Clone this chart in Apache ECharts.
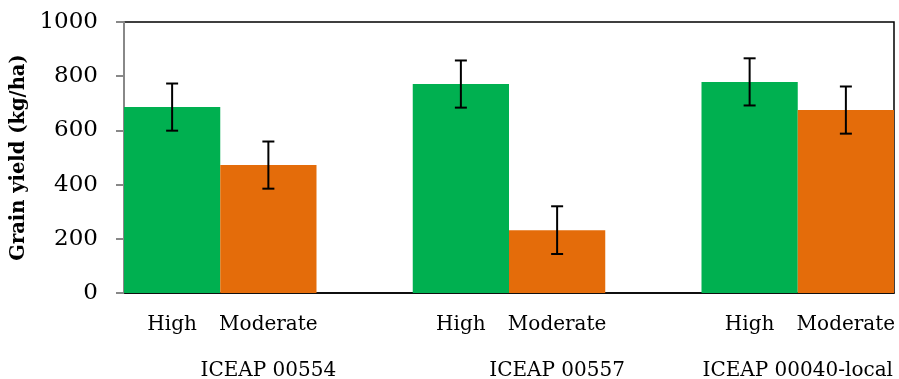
<!DOCTYPE html>
<html>
<head>
<meta charset="utf-8">
<script src="https://cdn.jsdelivr.net/npm/echarts@6/dist/echarts.min.js"></script>
<style>
  html, body { margin: 0; padding: 0; background: #fff; }
  #chart { width: 899px; height: 379px; }
</style>
</head>
<body>
<div id="chart"></div>
<script>
  // 品种 / 处理
  const groups = ['ICEAP 00554', 'ICEAP 00557', 'ICEAP 00040-local']
  const levels = ['High', 'Moderate']
  const highValues = [686, 771, 779]
  const moderateValues = [472, 232, 675]
  const highErrors = [87, 87, 87]
  const moderateErrors = [87, 88, 87]
  const yTicks = [0, 200, 400, 600, 800, 1000]

  const FONT = 'DejaVu Serif'

  // 每组占3格：High, Moderate, 空格（最后一组无空格）
  let categories = []
  let highData = []
  let modData = []
  let errData = []
  groups.forEach((g, i) => {
    categories.push(levels[0], levels[1])
    highData.push(highValues[i], null)
    modData.push(null, moderateValues[i])
    const base = categories.length - 2
    errData.push([base, highValues[i] - highErrors[i], highValues[i] + highErrors[i]])
    errData.push([base + 1, moderateValues[i] - moderateErrors[i], moderateValues[i] + moderateErrors[i]])
    if (i < groups.length - 1) {
      categories.push('')
      highData.push(null)
      modData.push(null)
    }
  })

  const mChart = echarts.init(document.getElementById('chart'))
  const option = {
    animation: false,
    grid: {
      left: 124, right: 5, top: 22, bottom: 86,
      show: true, borderColor: '#000', borderWidth: 1.5
    },
    xAxis: {
      type: 'category',
      data: categories,
      axisTick: { show: false },
      axisLine: { lineStyle: { color: '#000', width: 1.5 } },
      axisLabel: { color: '#000', fontFamily: FONT, fontSize: 20, margin: 22, interval: 0 }
    },
    yAxis: {
      type: 'value',
      min: yTicks[0],
      max: yTicks[yTicks.length - 1],
      interval: 200,
      name: 'Grain yield (kg/ha)',
      nameLocation: 'middle',
      nameGap: 90,
      nameTextStyle: { color: '#000', fontFamily: FONT, fontSize: 19.5, fontWeight: 'bold' },
      splitLine: { show: false },
      axisLine: { show: true, lineStyle: { color: '#888', width: 2 } },
      axisTick: { show: true, length: 8, lineStyle: { color: '#888', width: 2 } },
      axisLabel: {
        color: '#000', fontFamily: FONT, fontSize: 23, margin: 26,
        formatter: v => String(v)
      }
    },
    series: [
      {
        name: 'High',
        type: 'bar',
        data: highData,
        barGap: '-100%',
        barCategoryGap: 0,
        itemStyle: { color: '#00B050' }
      },
      {
        name: 'Moderate',
        type: 'bar',
        data: modData,
        barGap: '-100%',
        barCategoryGap: 0,
        itemStyle: { color: '#E46C0A' }
      },
      {
        // 误差线
        type: 'custom',
        data: errData,
        z: 10,
        renderItem: function (params, api) {
          const lo = api.coord([api.value(0), api.value(1)])
          const hi = api.coord([api.value(0), api.value(2)])
          const w = 6
          const st = { stroke: '#000', lineWidth: 2 }
          return {
            type: 'group',
            children: [
              { type: 'line', shape: { x1: hi[0], y1: hi[1], x2: lo[0], y2: lo[1] }, style: st },
              { type: 'line', shape: { x1: hi[0] - w, y1: hi[1], x2: hi[0] + w, y2: hi[1] }, style: st },
              { type: 'line', shape: { x1: lo[0] - w, y1: lo[1], x2: lo[0] + w, y2: lo[1] }, style: st }
            ]
          }
        }
      }
    ]
  }
  mChart.setOption(option)

  // 第二层分组标签
  let graphics = []
  let start = 0
  groups.forEach((g, i) => {
    const end = Math.min(start + 2, categories.length - 1)
    const x0 = mChart.convertToPixel({ xAxisIndex: 0 }, start)
    const x1 = mChart.convertToPixel({ xAxisIndex: 0 }, end)
    graphics.push({
      type: 'text',
      x: (x0 + x1) / 2,
      y: 371,
      style: {
        text: g,
        fill: '#000',
        font: '20px "' + FONT + '"',
        textAlign: 'center',
        textVerticalAlign: 'middle'
      }
    })
    start += 3
  })
  mChart.setOption({ graphic: graphics })

  window.addEventListener('resize', function () {
    mChart.resize()
  })
</script>
</body>
</html>
